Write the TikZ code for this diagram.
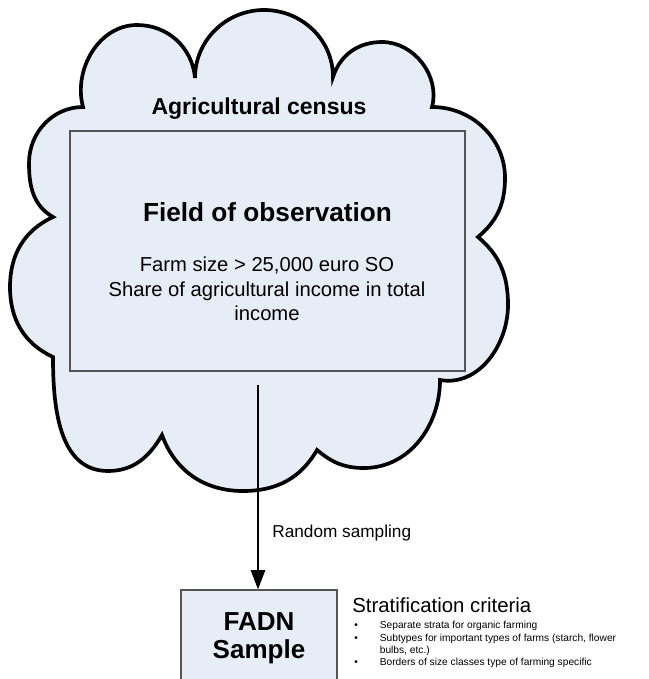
\documentclass[tikz,border=0pt]{standalone}
\usepackage{fontspec}
\setmainfont{Liberation Sans}
\usetikzlibrary{arrows.meta,positioning}
\definecolor{paleblue}{RGB}{231,237,247}
\definecolor{boxline}{RGB}{85,85,85}

\tikzset{
  areabox/.style={draw=boxline,line width=0.6pt,fill=paleblue,inner sep=0pt},
  label/.style={inner sep=0pt},
  flow/.style={line width=1.4pt,-{Triangle[length=11pt,width=8pt]}},
}

\begin{document}
\begin{tikzpicture}[x=0.2mm,y=0.2mm]
  \useasboundingbox (0,0) rectangle (649,-679);
  % census cloud
  \draw[line width=2.1pt,fill=paleblue] (83,-107)
    to[out=105,in=180] (137,-25) to[out=0,in=95] (195,-78)
    to[out=90,in=180] (264,-10) to[out=0,in=90] (333,-77)
    to[out=72,in=180] (382,-42) to[out=0,in=75] (432,-107)
    to[out=0,in=90] (505,-178) to[out=-90,in=40] (478,-237)
    to[out=-40,in=90] (508,-305) to[out=-90,in=-10] (440,-380)
    to[out=-90,in=0] (364,-468) to[out=180,in=-40] (317,-450)
    to[out=-120,in=0] (243,-491) to[out=180,in=-70] (162,-435)
    to[out=-120,in=0] (108,-471) to[out=180,in=-90] (53,-357)
    to[out=155,in=-90] (10,-287) to[out=90,in=-155] (53,-217)
    to[out=150,in=-90] (29,-163) to[out=90,in=180] cycle;
  \node[label,font=\fontsize{13.1}{15}\selectfont\bfseries] (census) at (259,-109) {Agricultural census};

  % field of observation
  \node[areabox,minimum width=79mm,minimum height=48mm] (obs) at (267.5,-251) {};
  \node[label,font=\fontsize{14.9}{17}\selectfont\bfseries] (obstitle) at (267.5,-212) {Field of observation};
  \node[label,font=\fontsize{11.5}{13.9}\selectfont,align=center] (obsrules) at (267,-289)
    {Farm size > 25,000 euro SO\\Share of agricultural income in total\\income};

  % sample
  \node[areabox,minimum width=31.2mm,minimum height=19.2mm,align=center,
    font=\fontsize{14.8}{15.9}\selectfont\bfseries] (fadn) at (259,-638) {FADN\\Sample};
  \coordinate (src) at (258,-385);
  \draw[flow] (src) -- (src |- fadn.north);
  \node[label,font=\fontsize{9.8}{12}\selectfont,anchor=west] (sampling) at (272,-533) {Random sampling};

  % strata
  \node[label,font=\fontsize{11.6}{14}\selectfont,anchor=west] (criteria) at (352,-605) {Stratification criteria};
  \node[label,font=\fontsize{5.8}{7}\selectfont,anchor=north west] (criterialist) at (354,-620)
    {\begin{tabular}{@{}l@{\hspace{12.5pt}}l@{}}
      \textbullet & Separate strata for organic farming\\
      \textbullet & Subtypes for important types of farms (starch, flower\\
                  & bulbs, etc.)\\
      \textbullet & Borders of size classes type of farming specific
    \end{tabular}};
\end{tikzpicture}
\end{document}
